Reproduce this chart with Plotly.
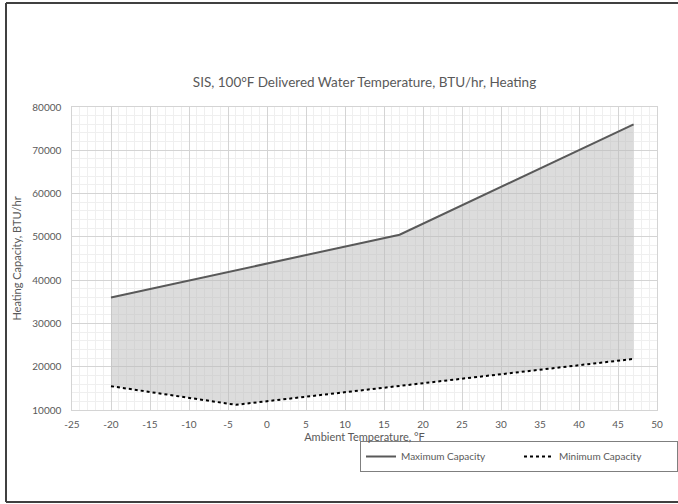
import plotly.graph_objects as go

# Data
max_x = [-20, 17, 47]
max_y = [36000, 50500, 76000]
min_x = [-20, -4, 47]
min_y = [15500, 11200, 21800]

x_ticks = [-25, -20, -15, -10, -5, 0, 5, 10, 15, 20, 25, 30, 35, 40, 45, 50]
x_tick_labels = ["-25", "-20", "-15", "-10", "-5", "0", "5", "10", "15", "20",
                 "25", "30", "35", "40", "45", "50"]

title_text = "SIS, 100°F Delivered Water Temperature, BTU/hr, Heating"
x_title = "Ambient Temperature, °F"
y_title = "Heating Capacity, BTU/hr"

FONT = "Lato, 'Open Sans', sans-serif"
TXT = "#595959"

fig = go.Figure()

# shaded region between curves
fig.add_trace(go.Scatter(x=min_x, y=min_y, mode="lines", line=dict(width=0),
                         showlegend=False, hoverinfo="skip"))
fig.add_trace(go.Scatter(x=max_x, y=max_y, mode="lines", line=dict(width=0),
                         fill="tonexty", fillcolor="rgba(185,185,185,0.5)",
                         showlegend=False, hoverinfo="skip"))

fig.add_trace(go.Scatter(x=max_x, y=max_y, mode="lines", name="Maximum Capacity",
                         line=dict(color="#595959", width=2)))
fig.add_trace(go.Scatter(x=min_x, y=min_y, mode="lines", name="Minimum Capacity",
                         line=dict(color="#000000", width=2, dash="dot")))

L, R, T, B = 72, 21, 107, 94
W, H = 678, 504
pw, ph = W - L - R, H - T - B

def px(x):
    return (x - L) / pw

def py(y):
    return (H - B - y) / ph

frame = dict(color="#404040", width=2)
fig.update_layout(
    width=W, height=H,
    margin=dict(l=L, r=R, t=T, b=B, autoexpand=False),
    paper_bgcolor="white", plot_bgcolor="white",
    font=dict(family=FONT, color=TXT, size=10),
    title=dict(text=title_text, xref="paper", x=0.5, xanchor="center", y=1 - 82 / H, yanchor="middle",
               font=dict(size=13.5, color=TXT, family=FONT)),
    showlegend=True,
    legend=dict(orientation="h", x=px(360), y=py(441), xanchor="left", yanchor="top",
                bordercolor="#7f7f7f", borderwidth=1, font=dict(size=10, color=TXT),
                entrywidth=113, entrywidthmode="pixels", traceorder="normal",
                itemwidth=30, tracegroupgap=0),
    shapes=[
        dict(type="line", xref="paper", yref="paper", x0=px(6), x1=px(690), y0=py(3), y1=py(3), line=frame),
        dict(type="line", xref="paper", yref="paper", x0=px(6), x1=px(690), y0=py(502), y1=py(502), line=frame),
        dict(type="line", xref="paper", yref="paper", x0=px(6), x1=px(6), y0=py(3), y1=py(502), line=frame),
    ],
)

fig.update_xaxes(range=[-25, 50], tickvals=x_ticks, ticktext=x_tick_labels,
                 showgrid=True, gridcolor="#d4d4d4", gridwidth=1,
                 minor=dict(dtick=1, tick0=0, showgrid=True, gridcolor="#efefef"),
                 showline=True, linecolor="#d4d4d4", mirror=True, zeroline=False,
                 ticks="", ticklabelstandoff=5, tickfont=dict(size=10, color=TXT),
                 title=dict(text=x_title, font=dict(size=11, color=TXT), standoff=3))
fig.update_yaxes(range=[10000, 80000], dtick=10000, tickformat="d", showgrid=True, gridcolor="#d4d4d4", gridwidth=1,
                 minor=dict(dtick=2000, showgrid=True, gridcolor="#efefef"),
                 showline=True, linecolor="#d4d4d4", mirror=True, zeroline=False,
                 ticks="", tickfont=dict(size=10, color=TXT), ticksuffix="   ",
                 title=dict(text=y_title, font=dict(size=11, color=TXT), standoff=8))

fig.write_html("out.html", config={"displayModeBar": False},
               post_script="document.body.style.margin='0';")
